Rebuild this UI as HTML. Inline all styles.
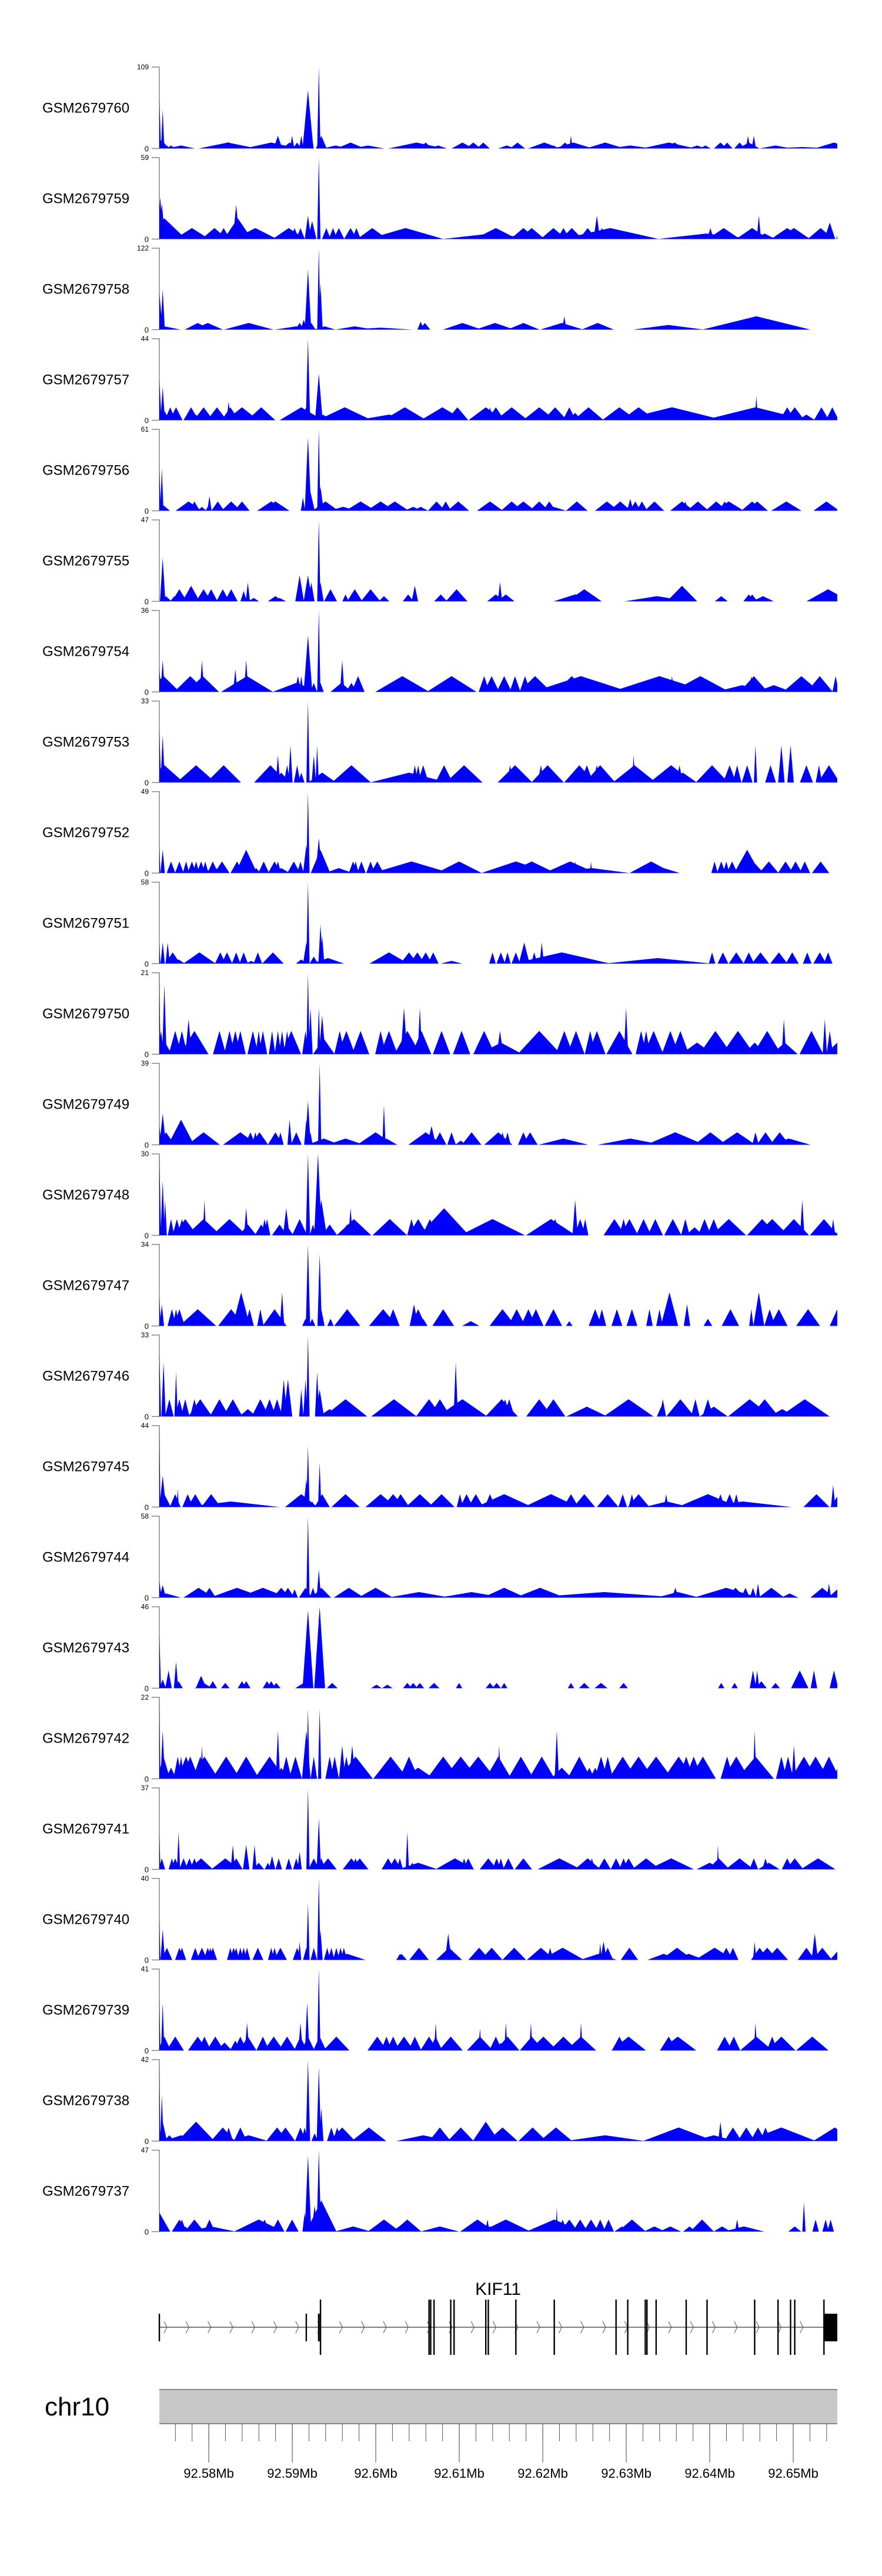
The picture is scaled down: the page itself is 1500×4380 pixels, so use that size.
<!DOCTYPE html>
<html><head><meta charset="utf-8"><title>KIF11 coverage tracks</title>
<style>
html,body{margin:0;padding:0;background:#fff;}
svg{display:block;}
text{font-family:"Liberation Sans",Arial,sans-serif;}
</style></head>
<body>
<svg id="chart" xmlns="http://www.w3.org/2000/svg" width="1500" height="4380" viewBox="0 0 1500 4380">
<rect x="0" y="0" width="1500" height="4380" fill="#fff"/>
</svg>
<script>
// ---- data (positions in kb from region start 92.57408 Mb; [centre kb, height, half-width kb]) ----
const sampleNames = ["GSM2679760","GSM2679759","GSM2679758","GSM2679757","GSM2679756","GSM2679755","GSM2679754","GSM2679753","GSM2679752","GSM2679751","GSM2679750","GSM2679749","GSM2679748","GSM2679747","GSM2679746","GSM2679745","GSM2679744","GSM2679743","GSM2679742","GSM2679741","GSM2679740","GSM2679739","GSM2679738","GSM2679737"];
const yMaxValues = [109,59,122,44,61,47,36,33,49,58,21,39,30,34,33,44,58,46,22,37,40,41,42,47];

const p60 = [[0,66,0.15],[0.4,52,0.15],[0.3,12,0.6],[0.9,4,0.3],[1.4,4,0.4],[2.6,4,1.3],[8.2,8,2.7],[8.3,10,0.1],[13.4,8,2.5],[14.2,17,0.4],[15.6,8,0.7],[15.9,17,0.2],[16.5,8,0.4],[17.0,17,0.2],[17.8,78,0.5],[18.1,30,0.3],[19.1,109,0.15],[19.4,17,0.5],[21.1,4,1.2],[22.9,8,1.3],[23.7,4,0.5],[25.0,4,1.5],[30.8,8,2.6],[31.9,8,0.6],[33.4,4,0.8],[36.3,8,1],[37.6,8,0.7],[38.8,8,0.6],[41.6,4,0.8],[42.9,8,0.7],[46.1,8,1.5],[47.2,4,0.5],[48.6,8,0.6],[49.3,17,0.15],[49.6,8,1.8],[53.4,8,1.8],[56.4,4,2.0],[61.0,8,2.5],[61.7,8,0.9],[64.4,4,0.8],[65.4,4,0.5],[67.2,8,0.6],[68.0,8,0.5],[69.5,8,0.5],[70.5,17,0.2],[71.2,17,0.2],[70.6,8,1],[73.8,4,1.5],[77.0,2,3],[80.8,8,1.8]];
const p59 = [[0.1,30,0.3],[0.3,26,0.3],[0.6,15,2.0],[3.9,8,1.6],[6.6,8,1.2],[7.7,8,0.6],[8.6,8,0.5],[9.2,25,0.3],[9.4,15,1.3],[11.5,8,2.0],[15.5,8,1.5],[16.2,8,0.4],[16.9,8,0.4],[17.8,17,0.3],[18.3,13,0.4],[19.1,59,0.15],[20.0,8,0.4],[20.8,8,0.4],[21.5,8,0.5],[22.9,8,0.6],[23.6,8,0.4],[25.5,8,1.4],[29.5,8,3.5],[39.7,4,4.5],[40.3,8,2],[43.6,8,1.2],[44.6,8,1.2],[47.2,8,1.2],[48.4,8,0.6],[49.4,8,1.0],[51.3,8,0.8],[52.4,17,0.3],[53.0,8,0.5],[54.0,8,4.5],[65.5,4,4.5],[66.0,8,0.3],[67.6,8,1.5],[71.0,8,1.5],[71.8,17,0.2],[72.5,4,1],[75.2,8,1.5],[76.0,8,1.5],[79.2,8,1.2],[80.3,12,0.5],[81.6,12,0.4]];
const p58 = [[0,55,0.3],[0.4,60,0.2],[0.6,5,1.5],[4.6,10,1.2],[5.8,10,1.4],[10.7,10,2.3],[16.4,5,2],[16.8,10,0.4],[17.3,15,0.3],[17.8,90,0.3],[18.2,10,0.4],[19.1,122,0.15],[19.3,70,0.2],[19.8,5,1],[23.4,5,1.8],[26.5,3,3],[31.3,12,0.3],[31.8,10,0.5],[36.3,10,1.8],[40.2,10,1.8],[43.6,10,1.5],[48.5,20,0.2],[48.2,10,2],[52.5,10,1.5],[61.0,7,3.3],[71.5,20,5]];
const p57 = [[0,22,0.2],[0.4,18,0.2],[0.6,5,0.5],[1.3,7,0.5],[2.0,7,0.6],[3.8,7,0.7],[4.4,3,0.4],[5.3,7,0.9],[6.9,7,0.9],[8.3,10,0.2],[8.5,7,0.8],[9.9,7,1.5],[12.2,7,1.3],[17.0,7,2],[17.8,44,0.2],[17.6,7,0.6],[19.1,25,0.35],[19.6,3,0.8],[22.2,7,2.5],[27.5,3,3],[29.4,7,2],[33.9,7,2],[35.4,3,1],[35.7,7,1],[39.1,7,1.6],[39.6,7,0.3],[40.3,7,0.8],[42.2,7,1.5],[45.5,7,1.5],[47.4,7,1.1],[49.1,7,0.6],[49.8,4,0.6],[51.4,7,1.4],[55.1,7,1.6],[57.4,7,1.6],[61.4,7,4.8],[71.4,7,4.8],[71.5,13,0.15],[73.3,3,0.8],[75.2,7,0.7],[76.1,7,0.9],[77.5,3,0.8],[79.3,7,0.7],[80.6,7,0.6]];
const p56 = [[0,32,0.15],[0.3,32,0.15],[0.5,4,0.6],[3.5,7,1.2],[4.2,7,0.5],[5.1,3,0.4],[5.9,4,0.3],[6.0,11,0.2],[7.0,7,0.6],[8.6,7,0.9],[9.9,7,0.7],[13.4,7,1.3],[13.9,7,1.3],[17.2,10,0.2],[17.8,55,0.3],[18.1,14,0.4],[19.1,61,0.15],[19.3,18,0.3],[19.9,7,1.2],[22.0,3,1.3],[24.1,7,1.4],[26.5,7,1.3],[28.2,7,1.3],[30.4,3,0.8],[31.3,3,0.7],[33.2,7,0.8],[34.3,7,0.5],[35.8,7,1],[39.6,7,1.2],[42.2,7,1],[43.6,7,1.1],[45.5,7,0.9],[46.7,7,0.6],[47.2,3,1.2],[50.0,7,1],[53.6,7,1.1],[55.2,7,1],[56.4,9,0.3],[57.0,7,0.5],[57.8,7,0.5],[59.3,7,0.9],[62.6,7,1.1],[63.0,7,0.3],[64.5,7,1],[66.7,7,1],[67.7,7,0.5],[68.2,7,1.4],[71.0,7,1],[71.6,7,1],[75.1,7,1.4],[79.9,7,1.2],[81.6,3,0.4]];
const p55 = [[0.4,25,0.25],[0.8,3,0.5],[1.8,3,0.4],[2.4,7,0.7],[3.8,9,0.8],[5.3,7,0.7],[6.2,7,0.6],[7.6,7,0.6],[8.6,7,0.6],[10.1,6,0.3],[10.6,11,0.2],[11.3,2,0.5],[13.9,3,0.7],[14.4,2,0.6],[16.8,15,0.4],[17.8,15,0.4],[18.2,11,0.3],[19.1,47,0.15],[19.3,11,0.3],[20.5,7,0.6],[22.3,4,0.3],[23.4,7,0.7],[25.3,7,0.9],[26.9,3,0.5],[29.8,4,0.5],[30.6,9,0.3],[33.7,4,0.6],[35.6,7,1],[40.3,4,0.8],[40.8,11,0.2],[41.5,4,0.8],[49.8,4,2],[50.9,7,1.6],[59.6,3,3],[62.6,9,1.4],[67.3,3,0.6],[70.6,4,0.5],[71.0,4,0.5],[72.3,3,1],[80.1,7,2]];
const p54 = [[0,10,0.2],[0.4,14,0.2],[0.5,7,1.5],[3.7,7,1.5],[5.1,14,0.2],[5.2,7,1.5],[9.1,10,0.2],[9.1,4,1.2],[10.4,14,0.2],[10.5,7,2.4],[16.4,4,2.2],[16.6,7,0.3],[17.0,7,0.2],[17.8,25,0.4],[18.5,4,0.3],[19.1,36,0.15],[19.3,4,0.3],[21.8,4,1],[21.9,14,0.2],[23.0,4,0.5],[23.8,7,0.6],[29.1,7,2.5],[35.0,7,2.3],[38.9,7,0.5],[39.8,7,0.7],[41.3,7,0.7],[42.6,7,0.5],[43.8,7,0.5],[45.0,7,1.5],[49.4,7,1.5],[50.5,7,4.5],[59.9,7,4.5],[61.4,7,0.2],[61.5,3,1.3],[64.8,7,2.7],[69.8,3,2.5],[70.9,7,0.2],[71.2,7,1.3],[73.6,3,1.7],[76.9,7,1.7],[78.4,4,0.4],[79.1,7,1.2],[81.0,7,0.3],[81.5,7,0.3]];
const p53 = [[0,22,0.15],[0.4,19,0.2],[0.6,7,1.8],[4.4,7,1.8],[7.7,7,1.6],[13.3,7,1.5],[14.2,11,0.2],[14.6,4,0.8],[15.3,7,0.3],[15.7,15,0.2],[16.5,7,0.3],[17.0,4,0.3],[17.8,33,0.15],[18.5,11,0.2],[18.9,15,0.15],[19.5,4,1.3],[23.0,7,1.8],[29.9,4,3.6],[30.6,7,0.3],[31.0,7,0.3],[31.6,7,0.5],[34.1,7,0.8],[36.5,7,1.7],[42.0,7,0.3],[42.6,7,1.6],[45.7,7,0.3],[46.5,7,1.5],[50.3,7,1.4],[51.2,7,0.6],[52.4,7,0.4],[52.8,7,1.4],[56.8,11,0.15],[56.9,7,2],[61.3,7,2],[62.3,7,0.3],[62.7,4,1.3],[66.2,7,1.5],[68.3,7,0.6],[69.2,7,0.4],[70.4,7,0.5],[71.4,15,0.15],[73.2,7,0.5],[74.5,15,0.3],[75.6,15,0.3],[77.5,7,0.6],[79.0,7,0.3],[80.2,7,1]];
const p52 = [[0,17,0.1],[0.4,14,0.2],[1.4,7,0.4],[2.4,7,0.4],[3.2,7,0.3],[3.9,7,0.4],[4.4,7,0.3],[5.0,7,0.4],[5.5,7,0.3],[6.4,7,0.5],[6.5,4,0.8],[7.5,7,0.7],[9.3,7,0.6],[9.9,7,0.5],[10.4,14,1],[11.6,3,0.4],[12.5,7,0.5],[13.8,7,0.6],[14.2,7,0.3],[14.6,3,0.8],[16.1,7,0.6],[16.9,7,0.3],[17.8,49,0.15],[17.6,17,0.3],[19.1,21,0.3],[19.3,14,0.9],[21.5,3,1.3],[23.2,7,0.4],[23.5,7,0.3],[24.2,7,0.4],[25.3,7,0.4],[26.1,7,0.6],[30.2,7,3.6],[35.9,7,2.1],[42.7,7,3.2],[44.6,7,2.2],[49.2,7,2.4],[49.8,7,0.2],[51.5,2,0.4],[51.7,7,0.1],[51.8,3,3.5],[58.9,7,2],[60.4,3,1.5],[66.5,7,0.3],[67.3,7,0.4],[67.9,7,0.3],[68.6,7,0.5],[70.4,14,1.2],[71.1,7,1],[73.0,7,0.9],[75.0,7,0.7],[76.2,7,0.6],[77.3,7,0.5],[79.2,7,0.8],[81.5,14,0.2]];
const p51 = [[0,15,0.1],[0.4,15,0.2],[1.0,15,0.2],[1.6,8,0.7],[2.3,3,0.6],[4.8,8,1.5],[7.3,8,0.5],[8.1,8,0.5],[9.2,8,0.4],[10.1,8,0.4],[11.0,2,0.5],[11.8,8,0.4],[13.6,8,1],[17.0,3,0.5],[17.6,15,0.3],[17.8,58,0.15],[18.5,5,0.4],[19.3,28,0.2],[19.5,20,0.2],[20.2,4,1.5],[27.5,8,1.8],[29.9,8,0.8],[30.9,8,0.7],[31.9,8,0.6],[32.8,8,0.5],[35.0,2,1],[39.9,8,0.3],[40.9,8,0.4],[41.7,8,0.3],[42.7,8,0.4],[43.7,15,0.5],[44.9,8,0.3],[45.8,15,0.2],[48.2,8,4.5],[59.7,4,5],[66.2,8,0.3],[67.5,8,0.5],[69.1,8,0.7],[70.6,8,0.5],[72.0,8,0.8],[74.2,8,0.8],[75.8,8,0.6],[77.6,8,0.4],[79.1,8,0.6],[80.1,8,0.4]];
const p50 = [[0,21,0.1],[0.2,6,0.3],[0.6,18,0.2],[0.7,3,0.6],[1.9,6,0.6],[2.7,6,0.5],[3.5,9,0.3],[4.2,6,1.3],[7.2,6,0.6],[8.4,6,0.5],[9.1,6,0.5],[9.7,6,0.5],[11.2,6,0.5],[11.9,6,0.3],[12.4,6,0.4],[13.5,6,0.3],[14.2,6,0.3],[14.7,6,0.3],[15.3,6,0.3],[15.8,6,0.9],[17.5,6,0.3],[17.8,21,0.15],[18.1,12,0.2],[19.1,12,0.15],[19.5,10,0.3],[19.7,4,1],[21.6,6,0.5],[22.4,6,0.8],[24.1,6,0.8],[26.5,6,0.5],[27.5,6,0.8],[29.3,12,0.3],[29.7,6,1.2],[31.2,12,0.2],[31.4,6,0.9],[33.8,6,0.8],[36.2,6,0.8],[38.9,6,1.0],[40.8,6,0.3],[40.9,3,2],[45.5,6,2],[48.5,6,0.8],[49.9,6,0.8],[51.6,6,0.5],[52.4,6,0.8],[55.1,6,1.2],[55.9,12,0.2],[57.7,6,0.5],[58.3,6,0.4],[59.2,6,0.9],[61.2,6,0.8],[62.4,6,0.8],[64.4,3,1.5],[66.6,6,1.5],[69.3,6,1.5],[71.3,3,1],[72.8,6,1.3],[74.8,9,0.2],[74.9,3,1.2],[78.1,6,1.1],[79.7,9,0.2],[80.3,6,0.3],[81.2,3,1.1]];
const p49 = [[0,9,0.2],[0.4,15,0.3],[0.8,6,0.8],[2.6,12,1.2],[3.7,2,0.3],[4.6,3,0.3],[5.3,6,1.5],[9.7,6,1.6],[10.9,6,0.5],[11.5,6,0.3],[12.0,6,0.8],[13.9,6,0.7],[14.5,6,0.3],[15.6,12,0.2],[16.4,6,0.5],[17.6,12,0.2],[17.8,21,0.25],[18.1,6,0.2],[19.2,39,0.15],[19.7,3,1.5],[22.3,3,1.7],[25.9,6,1.7],[26.9,19,0.15],[27.2,3,1],[31.9,6,1.6],[32.6,9,0.4],[33.6,6,0.6],[35.0,6,0.4],[36.1,2,0.5],[37.4,6,0.9],[40.6,6,1.3],[41.1,6,0.3],[41.7,6,0.3],[43.6,6,0.5],[44.4,6,0.7],[48.4,3,2.3],[56.4,3,3],[61.8,6,2.7],[66.0,6,1.5],[69.2,6,1.7],[71.4,6,0.3],[72.6,6,0.8],[74.3,6,0.9],[75.4,3,2]];
const p48 = [[0,30,0.15],[0.4,20,0.2],[0.7,13,0.15],[1.4,6,0.3],[2.1,6,0.4],[2.7,6,0.4],[3.1,6,1.1],[5.3,6,1.6],[5.4,13,0.15],[8.4,6,1.6],[10.4,10,0.2],[10.6,4,0.8],[12.2,4,0.6],[12.6,6,0.3],[12.9,6,0.3],[14.4,4,0.7],[15.2,10,0.3],[15.4,3,0.5],[16.8,6,0.7],[17.8,30,0.2],[18.4,4,0.3],[19.0,30,0.35],[19.4,13,0.5],[20.4,4,0.7],[22.5,4,0.7],[22.9,10,0.2],[23.3,6,1.6],[27.6,6,1.6],[30.2,6,0.4],[31.0,6,0.9],[32.4,6,0.7],[34.1,10,2.3],[39.9,6,3],[46.9,6,2.3],[47.4,6,0.6],[49.8,13,0.25],[50.4,6,0.5],[51.0,6,0.3],[54.5,6,1],[55.6,6,0.4],[56.3,6,0.8],[58.0,6,0.7],[59.4,6,0.7],[61.5,6,0.8],[63.0,6,0.4],[64.1,3,0.8],[65.3,6,0.6],[66.4,6,0.6],[68.2,6,1.6],[72.2,6,1.4],[73.4,6,1.5],[76.0,6,1.4],[77.0,13,0.2],[79.6,6,1.3],[80.7,6,0.2],[81.6,3,0.5]];
const p47 = [[0,12,0.15],[0.3,9,0.2],[1.5,7,0.4],[2.0,7,0.3],[2.4,7,0.5],[4.6,7,1.7],[8.6,7,1.2],[9.8,14,0.8],[10.8,7,0.4],[12.1,7,0.3],[13.8,7,1.1],[14.7,14,0.2],[17.5,3,0.3],[17.8,34,0.2],[18.3,3,0.3],[19.2,30,0.2],[19.4,7,0.3],[20.5,3,0.3],[22.5,7,1.2],[26.8,7,1.3],[28.0,7,0.6],[30.5,9,0.4],[31.0,7,0.7],[31.6,3,0.4],[34.0,7,1],[37.3,2,0.8],[41.1,7,1.2],[42.8,7,0.8],[44.2,7,0.7],[45.1,7,0.7],[47.2,7,0.8],[49.1,2,0.3],[52.2,7,0.6],[53.0,7,0.4],[54.8,7,0.5],[56.6,7,0.5],[58.7,7,0.3],[59.9,7,0.3],[61.1,14,0.8],[63.2,9,0.3],[65.7,3,0.4],[68.4,7,0.8],[70.9,7,0.2],[71.8,14,0.5],[73.1,7,0.5],[74.2,7,0.8],[77.7,7,1.1],[81.2,7,0.7]];
const p46 = [[0,26,0.15],[0.5,22,0.2],[1.2,7,0.4],[2.0,18,0.15],[2.4,7,0.4],[3.1,7,0.4],[4.2,7,0.4],[4.9,7,1.1],[7.2,7,0.9],[8.8,7,0.9],[10.6,3,0.8],[12.1,7,0.8],[13.2,7,0.6],[14.1,7,0.5],[14.9,15,0.3],[15.4,15,0.4],[17.0,11,0.2],[17.5,15,0.2],[17.8,33,0.15],[18.9,18,0.2],[19.2,11,0.4],[20.4,3,1],[22.3,7,2],[28.1,7,2.1],[32.3,7,1.2],[33.6,7,1],[35.5,22,0.2],[36.3,7,2.3],[41.0,7,1.5],[41.4,7,0.5],[41.9,7,0.5],[45.5,7,1.2],[47.2,7,1.1],[51.2,4,1.9],[56.2,7,2.3],[60.1,4,0.4],[60.3,7,0.3],[62.4,7,1.3],[64.2,7,0.4],[65.7,7,0.5],[66.4,4,1.3],[70.7,7,2],[72.5,7,1.3],[74.6,3,1.2],[77.3,7,2.3]];
const p45 = [[0,44,0.1],[0.4,17,0.3],[0.6,7,0.6],[1.9,7,0.5],[2.2,10,0.1],[3.4,7,0.5],[4.3,7,0.7],[6.2,7,0.9],[8.2,3,0.3],[8.6,3,4.5],[17.0,7,1.5],[17.6,15,0.25],[17.8,33,0.15],[18.3,3,0.3],[19.2,24,0.15],[19.5,7,0.7],[22.3,7,1.3],[22.8,3,0.8],[26.5,7,1.4],[28.0,7,1],[28.9,7,0.8],[31.2,7,1.3],[33.8,7,1.2],[36.0,7,0.3],[36.8,7,0.6],[37.9,7,0.7],[39.6,7,0.5],[41.3,7,2.6],[46.9,7,2.5],[49.3,7,0.7],[50.9,7,1],[53.7,7,1],[55.5,7,0.4],[56.6,7,0.3],[57.4,7,1],[60.7,7,0.2],[60.8,3,2.1],[65.7,7,2.8],[66.5,3,0.3],[67.2,7,0.4],[68.3,7,0.5],[69.1,7,0.3],[69.9,3,4.5],[78.7,7,1.2],[80.7,12,0.2],[81.4,7,0.8]];
const p44 = [[0,12,0.2],[0.4,9,0.3],[0.8,3,1.4],[4.7,7,1.4],[6.0,7,0.6],[9.3,7,2.5],[12.4,7,2.3],[14.6,7,0.8],[15.4,7,0.6],[16.2,6,0.3],[17.5,7,0.6],[17.8,58,0.15],[18.4,7,0.3],[19.1,20,0.2],[19.4,7,0.9],[22.7,7,1.4],[25.9,7,1.6],[31.1,4,2.9],[37.4,4,3],[41.3,7,2],[45.6,7,2.3],[53.3,4,7],[61.8,7,0.3],[62.1,4,2],[67.9,7,3],[69.0,7,0.9],[70.2,7,0.4],[71.1,7,0.3],[71.7,10,0.2],[73.3,7,1.2],[75.5,3,0.8],[79.4,7,1.1],[80.2,10,0.2],[81.4,7,1]];
const p43 = [[0,31,0.15],[0.4,5,0.3],[1.1,10,0.3],[2.0,15,0.2],[2.3,4,0.4],[5.0,7,0.5],[5.3,3,0.8],[6.4,4,0.4],[7.9,3,0.4],[9.9,4,0.4],[10.4,4,0.4],[12.9,4,0.4],[13.4,4,0.4],[14.0,3,0.4],[17.3,3,0.8],[17.8,44,0.5],[19.2,46,0.5],[20.7,3,0.5],[26.0,2,0.5],[27.3,2,0.5],[29.7,3,0.4],[30.4,3,0.4],[31.2,3,0.4],[32.9,3,0.5],[35.9,3,0.3],[39.6,3,0.4],[40.4,3,0.4],[41.3,3,0.3],[49.3,3,0.3],[50.9,3,0.5],[52.9,3,0.6],[55.6,3,0.4],[67.3,3,0.3],[68.9,3,0.3],[71.1,10,0.3],[71.6,10,0.2],[72.1,4,0.5],[73.8,3,0.4],[76.7,10,0.8],[78.4,10,0.3],[80.8,10,0.4]];
const p42 = [[0,22,0.1],[0.4,13,0.2],[0.5,6,0.6],[1.4,3,0.5],[2.2,6,0.4],[2.6,6,0.3],[3.2,6,0.8],[3.7,6,0.8],[4.9,6,0.7],[5.1,9,0.15],[5.4,6,1.3],[8.0,6,1.3],[10.4,6,1.2],[13.2,6,1.4],[14.2,13,0.2],[14.6,3,0.6],[15.2,6,0.5],[16.3,6,0.6],[17.6,13,0.4],[17.8,19,0.15],[18.5,6,0.3],[19.2,19,0.15],[20.4,6,0.4],[21.0,6,0.4],[21.9,9,0.3],[22.4,6,0.4],[23.1,9,0.3],[23.5,6,1.6],[27.7,6,1.6],[29.9,6,0.9],[31.0,3,1.5],[34.0,6,1.5],[36.1,6,1.6],[38.2,6,1.6],[40.6,6,1.2],[40.7,9,0.15],[43.3,6,1.2],[45.8,6,1.2],[47.6,13,0.2],[48.2,3,1],[50.3,6,1.1],[51.5,3,0.5],[52.2,3,0.5],[52.9,6,0.6],[53.7,6,0.5],[55.2,3,0.3],[55.5,6,1.3],[57.4,6,1.4],[59.5,6,1.5],[62.2,6,1.4],[63.1,6,0.7],[64.0,6,0.8],[65.1,6,1.2],[68.0,6,0.6],[69.1,6,1.2],[71.3,13,0.15],[71.4,6,1.7],[74.5,6,0.5],[75.3,6,0.5],[76.0,9,0.2],[77.2,6,1.2],[78.6,6,1.2],[80.2,6,1],[81.6,6,0.6]];
const p41 = [[0,17,0.1],[0.3,5,0.3],[1.5,5,0.3],[1.9,5,0.4],[2.3,17,0.15],[2.9,5,0.4],[3.6,5,0.4],[4.2,5,0.4],[5.0,5,1.1],[7.9,5,1.3],[8.8,11,0.2],[9.2,5,0.6],[10.4,11,0.3],[11.4,11,0.2],[11.9,3,0.5],[13.0,3,0.3],[13.5,6,0.3],[14.3,5,0.3],[15.5,5,0.3],[16.4,5,0.3],[16.8,8,0.2],[17.8,37,0.15],[18.5,5,0.5],[19.1,23,0.2],[19.4,5,0.4],[20.2,5,0.8],[23.0,5,0.8],[23.5,5,0.4],[24.0,5,0.8],[27.4,5,0.6],[28.2,5,0.6],[28.8,5,0.3],[29.7,17,0.15],[30.3,3,0.4],[31.0,3,1.8],[35.4,5,1.8],[36.5,5,0.3],[37.0,5,0.5],[39.4,5,0.8],[40.4,5,0.4],[40.9,5,0.3],[41.8,5,0.5],[43.6,5,0.8],[47.9,5,2],[51.3,5,1.2],[51.8,5,0.3],[53.3,5,0.6],[54.7,5,0.5],[55.6,5,0.4],[56.2,5,0.6],[58.3,5,1.3],[61.3,5,2.1],[65.9,3,1.2],[66.9,11,0.1],[67.0,5,1],[69.5,5,1.3],[71.2,5,0.4],[72.6,5,0.3],[73.0,3,1],[75.2,5,0.5],[76.1,5,0.8],[78.9,5,1.6]];
const p40 = [[0,21,0.1],[0.4,15,0.2],[0.9,6,0.5],[2.4,6,0.4],[2.7,6,0.4],[4.3,6,0.4],[5.1,6,0.5],[5.8,6,0.4],[6.1,6,0.3],[6.4,6,0.4],[8.5,6,0.3],[8.9,6,0.4],[9.2,6,0.3],[9.7,6,0.3],[10.1,6,0.3],[10.5,6,0.3],[11.8,6,0.5],[13.4,6,0.3],[13.8,6,0.3],[14.5,6,0.6],[16.5,6,0.4],[16.8,9,0.15],[17.6,6,0.3],[17.8,28,0.15],[18.5,6,0.3],[19.1,40,0.15],[19.3,15,0.2],[20.1,6,0.3],[20.6,6,0.3],[21.2,6,0.3],[21.7,6,0.3],[22.1,6,0.3],[22.5,3,1.7],[28.8,3,0.3],[29.0,3,0.5],[31.1,6,0.9],[34.6,13,0.3],[34.7,6,1.2],[38.3,6,1],[39.8,6,1],[42.5,6,1.1],[45.7,6,1.3],[46.8,6,0.3],[48.3,6,2],[52.6,3,1.7],[52.8,8,0.15],[53.2,9,0.3],[53.7,6,0.5],[56.3,6,0.8],[60.4,3,1.5],[62.0,6,1.5],[63.4,3,1.5],[66.5,6,1.8],[67.9,6,0.6],[68.7,6,0.5],[71.3,9,0.15],[71.9,6,0.8],[72.8,6,1],[74.0,6,1],[77.5,6,0.8],[78.5,13,0.3],[79.4,6,0.9],[81.6,6,1]];
const p39 = [[0,27,0.1],[0.4,24,0.15],[0.6,7,0.6],[1.9,7,0.8],[4.6,7,0.9],[5.4,7,0.6],[6.7,7,0.8],[7.8,4,0.7],[9.1,5,0.5],[9.7,7,0.6],[10.5,14,0.2],[10.6,7,0.8],[12.4,7,0.6],[13.7,7,0.9],[15.3,7,0.8],[16.9,14,0.2],[16.9,7,0.6],[17.7,24,0.2],[17.8,7,0.6],[19.1,41,0.15],[19.2,7,0.6],[21.2,7,1.2],[26.1,7,0.9],[27.2,7,0.5],[28.0,7,0.6],[29.3,7,0.9],[30.6,7,0.6],[32.3,7,0.8],[33.1,14,0.15],[33.1,7,0.6],[34.9,7,1.1],[38.4,11,0.15],[38.4,7,1.2],[40.3,7,0.6],[40.9,4,0.4],[41.5,14,0.15],[41.7,7,1.1],[44.5,14,0.15],[44.6,7,1.1],[46.0,7,1.3],[48.4,7,1.3],[50.5,14,0.15],[50.5,7,1.4],[55.1,7,0.7],[56.2,7,1.6],[61.0,7,0.8],[62.1,7,1.7],[67.7,7,0.7],[68.8,7,0.6],[71.4,14,0.15],[71.5,7,1.5],[73.4,7,0.5],[74.5,7,1.3],[78.2,7,1.5]];
const p38 = [[0,40,0.1],[0.3,24,0.15],[0.4,10,0.4],[1.2,3,0.5],[2.6,3,1.6],[4.4,10,1.7],[7.6,7,1.1],[8.3,7,0.4],[9.7,7,0.6],[10.7,3,1.8],[14.1,7,1],[15.1,7,0.9],[16.9,7,0.5],[17.4,7,0.3],[17.8,42,0.2],[18.6,4,0.3],[19.1,38,0.2],[19.4,17,0.2],[20.6,7,0.4],[21.3,7,0.4],[21.9,7,1.2],[25.1,7,1.6],[25.5,5,1],[31.6,3,2.5],[33.6,7,1],[36.1,7,1.2],[39.1,10,1.2],[41.1,7,1.4],[44.7,7,1.3],[47.5,7,1.5],[53.4,3,3.7],[62.2,7,3.3],[67.2,10,0.2],[66.4,3,2],[68.7,7,0.8],[70.3,7,0.8],[71.7,7,0.7],[72.6,7,0.5],[74.5,7,3.2],[80.9,7,2]];
const p37 = [[0,11,1.0],[2.4,7,0.7],[2.7,7,0.4],[3.1,3,0.5],[4.2,7,0.9],[6.0,7,0.5],[6.2,3,2.3],[11.9,7,2.3],[12.6,7,0.5],[14.2,7,0.6],[15.9,7,0.6],[17.4,11,0.2],[17.8,44,0.3],[18.6,15,0.3],[19.1,47,0.2],[19.4,18,1.4],[23.2,3,1.7],[26.9,7,1.5],[28.7,3,0.6],[29.7,7,1.3],[33.6,3,1.8],[38.1,7,1.6],[39.3,7,0.2],[39.6,3,0.9],[41.5,7,2.3],[47.3,7,2.6],[47.6,14,0.1],[48.3,7,0.4],[49.1,7,0.8],[50.4,7,0.7],[51.7,7,0.7],[52.8,7,0.5],[53.8,7,0.5],[55.4,3,0.7],[56.6,7,1.3],[59.3,3,1],[61.2,3,1],[63.5,3,0.6],[65.0,7,1.1],[67.4,3,0.8],[69.2,7,0.2],[70.0,3,1.9],[76.1,3,0.6],[77.2,17,0.15],[78.6,7,0.3],[79.8,7,0.3],[80.4,7,0.3]];
const trackPeaks = [p60,p59,p58,p57,p56,p55,p54,p53,p52,p51,p50,p49,p48,p47,p46,p45,p44,p43,p42,p41,p40,p39,p38,p37];

// gene model (kb from region start)
const exonLines = [0,17.6,19.3,32.3,32.5,32.9,34.9,35.3,39.1,39.4,42.7,47.3,54.7,56.1,58.2,58.4,59.5,63.1,65.6,71.3,74.1,75.6,76.1,79.6];
const exonTall = [0,0,1,1,1,1,1,1,1,1,1,1,1,1,1,1,1,1,1,1,1,1,1,1];
// axis
const majorTicksMb = [92.58,92.59,92.60,92.61,92.62,92.63,92.64,92.65];
const majorTickLabels = ["92.58Mb","92.59Mb","92.6Mb","92.61Mb","92.62Mb","92.63Mb","92.64Mb","92.65Mb"];
const regionStartMb = 92.57408;
const regionEndMb = 92.65528;

// ---- drawing ----
const NS = "http://www.w3.org/2000/svg";
const svg = document.getElementById("chart");
const X0 = 271, X1 = 1424;
const WIDTH_SCALE = 1.3;
const spanKb = (regionEndMb - regionStartMb) * 1000;
function xKb(kb){ return X0 + kb / spanKb * (X1 - X0); }
function xMb(mb){ return xKb((mb - regionStartMb) * 1000); }
function mk(tag, attrs, parent){
  const e = document.createElementNS(NS, tag);
  for (const k in attrs) e.setAttribute(k, attrs[k]);
  (parent || svg).appendChild(e);
  return e;
}
const clip = mk("clipPath", {id:"plotclip"});
mk("rect", {x:X0, y:0, width:X1-X0, height:4380}, clip);

const TOP0 = 114, PITCH = 154, H = 138.5;
sampleNames.forEach((name, i) => {
  const top = TOP0 + PITCH * i, base = top + H;
  const ymax = yMaxValues[i];
  const yv = v => base - v / ymax * H;
  const g = mk("g", {});
  
  
  const lab = mk("text", {x:72, y:top + H/2 + 8, "font-size":24, fill:"#000"}, g);
  lab.textContent = name;
  
  
  const axis = mk("path", {d:`M${X0-13},${top}H${X0}V${base}H${X0-13}`, stroke:"#888", "stroke-width":1.5, fill:"none"}, g);
  
  
  const tMax = mk("text", {x:X0-18, y:top+4, "font-size":12, "text-anchor":"end", fill:"#000"}, g);
  tMax.textContent = String(ymax);
  
  
  const tZero = mk("text", {x:X0-18, y:base+5, "font-size":13, "text-anchor":"end", fill:"#000"}, g);
  tZero.textContent = "0";
  
  
  const area = mk("g", {"clip-path":"url(#plotclip)", fill:"#0000ff"}, g);
  
  
  trackPeaks[i].forEach(p => {
    const c = p[0], h = p[1], w = p[2] * WIDTH_SCALE;
    const tri = mk("polygon", {points:`${xKb(c-w)},${base} ${xKb(c)},${yv(h)} ${xKb(c+w)},${base}`}, area);
    
    
  });
});

// gene track
const geneG = mk("g", {});


const GY = 3957;
const gl = mk("text", {x:847, y:3902, "font-size":30, "text-anchor":"middle", fill:"#000"}, geneG);
gl.textContent = "KIF11";


const intron = mk("line", {x1:X0, y1:GY, x2:xKb(79.6), y2:GY, stroke:"#333", "stroke-width":1.2}, geneG);


for (let x = X0 + 8; x < xKb(79.6) - 6; x += 37.3) {
  const ch = mk("path", {d:`M${x},${GY-10}L${x+5},${GY}L${x},${GY+10}`, stroke:"#555", "stroke-width":1, fill:"none"}, geneG);
  
  
}
exonLines.forEach((kb, j) => {
  const x = xKb(kb);
  const tall = exonTall[j];
  const ex = mk("rect", {x:x-1.2, y: tall ? 3910 : 3934, width:2.4, height: tall ? 94 : 47, fill:"#000"}, geneG);
  
  
});
const ex19 = mk("rect", {x:xKb(19.1)-1.5, y:3934, width:3, height:47, fill:"#000"}, geneG);


const utr = mk("rect", {x:xKb(79.6), y:3934, width:X1-xKb(79.6), height:47, fill:"#000"}, geneG);



// chromosome axis
const axG = mk("g", {});


const chr = mk("text", {x:76, y:4107, "font-size":44, fill:"#000"}, axG);
chr.textContent = "chr10";


const bar = mk("rect", {x:X0, y:4063, width:X1-X0, height:58, fill:"#c8c8c8"}, axG);


mk("line", {x1:X0, y1:4063, x2:X1, y2:4063, stroke:"#888", "stroke-width":2}, axG);
mk("line", {x1:X0, y1:4121, x2:X1, y2:4121, stroke:"#888", "stroke-width":2}, axG);
for (let k = 0; k < 40; k++) {
  const mb = 92.576 + k * 0.002;
  if (mb > regionEndMb) break;
  const t = mk("line", {x1:xMb(mb), y1:4121, x2:xMb(mb), y2:4151, stroke:"#555", "stroke-width":1}, axG);
  
  
}
majorTicksMb.forEach((mb, j) => {
  const x = xMb(mb);
  const t = mk("line", {x1:x, y1:4121, x2:x, y2:4187, stroke:"#444", "stroke-width":1}, axG);
  
  
  const l = mk("text", {x:x, y:4213, "font-size":22, "text-anchor":"middle", fill:"#000"}, axG);
  l.textContent = majorTickLabels[j];
  
  
});
</script>
</body></html>
